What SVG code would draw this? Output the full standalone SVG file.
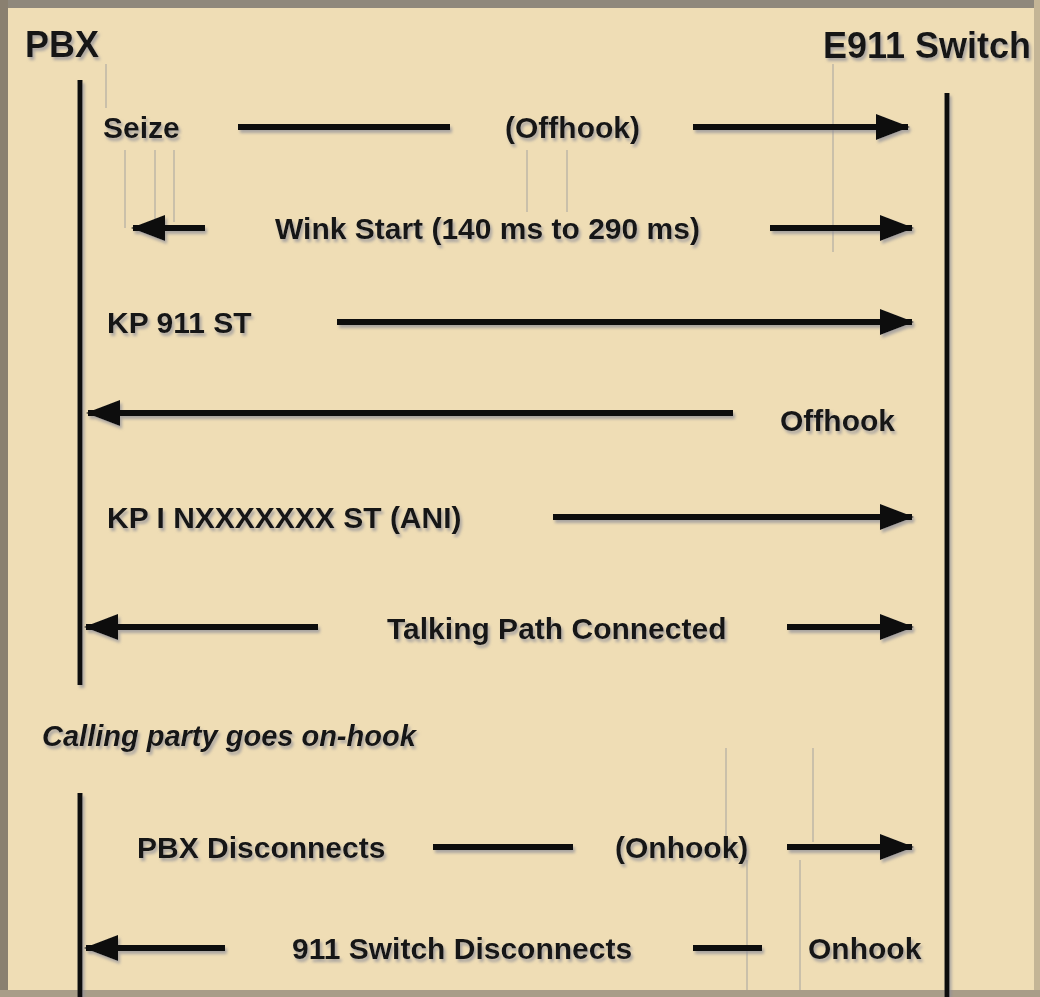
<svg xmlns="http://www.w3.org/2000/svg" width="1040" height="997" viewBox="0 0 1040 997">
<defs>
<style>
.t{font-family:"Liberation Sans",Arial,sans-serif;font-weight:bold;fill:#151515;}
.m{font-size:30px;}
.h{font-size:36px;}
.it{font-size:29px;font-style:italic;}
.ll{stroke:#111;stroke-width:5;fill:none;}
.ar{stroke:#111;stroke-width:6;fill:none;}
.gh{stroke:#bfb6a6;stroke-width:1.5;fill:none;}
</style>
<marker id="ah" markerUnits="userSpaceOnUse" markerWidth="34" markerHeight="26" refX="32" refY="13" orient="auto">
<path d="M0,0 L34,13 L0,26 Z" fill="#111"/>
</marker>
<filter id="sh" x="-5%" y="-20%" width="110%" height="160%">
<feDropShadow dx="2" dy="3" stdDeviation="1.5" flood-color="#8e8e98" flood-opacity="0.7"/>
</filter>
</defs>
<rect x="0" y="0" width="1040" height="997" fill="#EFDDB5"/>
<rect x="0" y="0" width="1040" height="8" fill="#8f887c"/>
<rect x="0" y="0" width="8" height="997" fill="#8a8070"/>
<rect x="1034" y="0" width="6" height="997" fill="#c4b596"/>
<rect x="0" y="990" width="1040" height="7" fill="#a89d88"/>

<g id="artifacts">
<path class="gh" d="M106,64 V108 M125,150 V228 M155,150 V222 M174,150 V222 M527,150 V212 M567,150 V212 M833,64 V252 M726,748 V842 M813,748 V842 M747,860 V990 M800,860 V990"/>
</g>

<g id="pbx" filter="url(#sh)">
<text class="t h" x="25" y="57">PBX</text>
<line class="ll" x1="80" y1="80" x2="80" y2="685"/>
<line class="ll" x1="80" y1="793" x2="80" y2="997"/>
</g>
<g id="switch" filter="url(#sh)">
<text class="t h" x="823" y="58">E911 Switch</text>
<line class="ll" x1="947" y1="93" x2="947" y2="997"/>
</g>

<g id="connectors" filter="url(#sh)">
<line class="ar" x1="238" y1="127" x2="450" y2="127"/>
<line class="ar" x1="693" y1="127" x2="908" y2="127" marker-end="url(#ah)"/>
<line class="ar" x1="205" y1="228" x2="133" y2="228" marker-end="url(#ah)"/>
<line class="ar" x1="770" y1="228" x2="912" y2="228" marker-end="url(#ah)"/>
<line class="ar" x1="337" y1="322" x2="912" y2="322" marker-end="url(#ah)"/>
<line class="ar" x1="733" y1="413" x2="88" y2="413" marker-end="url(#ah)"/>
<line class="ar" x1="553" y1="517" x2="912" y2="517" marker-end="url(#ah)"/>
<line class="ar" x1="318" y1="627" x2="86" y2="627" marker-end="url(#ah)"/>
<line class="ar" x1="787" y1="627" x2="912" y2="627" marker-end="url(#ah)"/>
<line class="ar" x1="433" y1="847" x2="573" y2="847"/>
<line class="ar" x1="787" y1="847" x2="912" y2="847" marker-end="url(#ah)"/>
<line class="ar" x1="225" y1="948" x2="86" y2="948" marker-end="url(#ah)"/>
<line class="ar" x1="693" y1="948" x2="762" y2="948"/>
</g>

<g id="labels" filter="url(#sh)">
<text class="t m" x="103" y="138">Seize</text>
<text class="t m" x="505" y="138">(Offhook)</text>
<text class="t m" x="275" y="239">Wink Start (140 ms to 290 ms)</text>
<text class="t m" x="107" y="333">KP 911 ST</text>
<text class="t m" x="780" y="431">Offhook</text>
<text class="t m" x="107" y="528">KP I NXXXXXXX ST (ANI)</text>
<text class="t m" x="387" y="639">Talking Path Connected</text>
<text class="t it" x="42" y="746">Calling party goes on-hook</text>
<text class="t m" x="137" y="858">PBX Disconnects</text>
<text class="t m" x="615" y="858">(Onhook)</text>
<text class="t m" x="292" y="959">911 Switch Disconnects</text>
<text class="t m" x="808" y="959">Onhook</text>
</g>
</svg>
